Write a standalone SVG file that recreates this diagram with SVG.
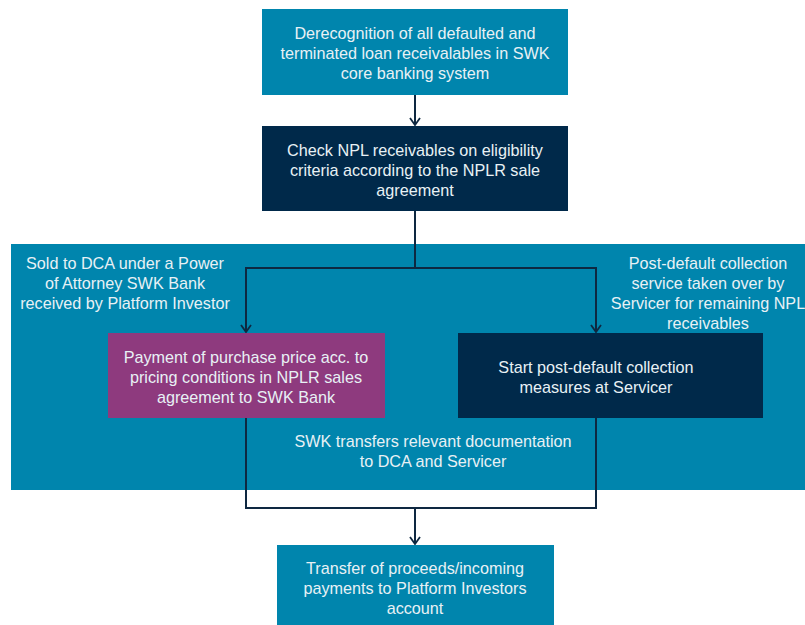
<svg xmlns="http://www.w3.org/2000/svg" width="805" height="625" viewBox="0 0 805 625">
<defs>
<style>
text{font-family:"Liberation Sans","Noto Sans",Arial,sans-serif;font-size:16.2px;fill:#E8F1F5;text-anchor:middle;dominant-baseline:central}
.teal{fill:#0085AD}
.navy{fill:#00294A}
.purple{fill:#8E3A7E}
.conn{fill:none;stroke:#0E2841;stroke-width:2}
</style>
<marker id="ah" viewBox="0 0 12 12" refX="11" refY="6" markerWidth="12" markerHeight="12" markerUnits="userSpaceOnUse" orient="auto">
<path d="M4,1 L11,6 L4,11" fill="none" stroke="#0E2841" stroke-width="1.8"/>
</marker>
</defs>
<rect x="11" y="244" width="794" height="246" class="teal" id="panel"/>
<g id="labels">
<text x="125" y="263">Sold to DCA under a Power</text>
<text x="125" y="283">of Attorney SWK Bank</text>
<text x="125" y="303">received by Platform Investor</text>
<text x="708" y="263">Post-default collection</text>
<text x="708" y="283">service taken over by</text>
<text x="708" y="303">Servicer for remaining NPL</text>
<text x="708" y="323">receivables</text>
<text x="433" y="441">SWK transfers relevant documentation</text>
<text x="433" y="461">to DCA and Servicer</text>
</g>
<g id="connectors">
<line class="conn" x1="415" y1="95" x2="415" y2="125" marker-end="url(#ah)"/>
<path class="conn" d="M415,211 V268 M246,268 H596"/>
<line class="conn" x1="246" y1="267" x2="246" y2="332" marker-end="url(#ah)"/>
<line class="conn" x1="596" y1="267" x2="596" y2="332" marker-end="url(#ah)"/>
<path class="conn" d="M246,418 V508 H596 V418"/>
<line class="conn" x1="415" y1="508" x2="415" y2="544" marker-end="url(#ah)"/>
</g>
<g id="n1">
<rect x="262" y="9" width="306" height="86" class="teal"/>
<text x="415" y="33">Derecognition of all defaulted and</text>
<text x="415" y="53">terminated loan receivalables in SWK</text>
<text x="415" y="73">core banking system</text>
</g>
<g id="n2">
<rect x="262" y="126" width="306" height="85" class="navy"/>
<text x="415" y="150">Check NPL receivables on eligibility</text>
<text x="415" y="170">criteria according to the NPLR sale</text>
<text x="415" y="190">agreement</text>
</g>
<g id="n3">
<rect x="108" y="333" width="277" height="85" class="purple"/>
<text x="246" y="357">Payment of purchase price acc. to</text>
<text x="246" y="377">pricing conditions in NPLR sales</text>
<text x="246" y="397">agreement to SWK Bank</text>
</g>
<g id="n4">
<rect x="458" y="333" width="305" height="85" class="navy"/>
<text x="596" y="367">Start post-default collection</text>
<text x="596" y="387">measures at Servicer</text>
</g>
<g id="n5">
<rect x="277" y="545" width="277" height="80" class="teal"/>
<text x="415" y="568">Transfer of proceeds/incoming</text>
<text x="415" y="588">payments to Platform Investors</text>
<text x="415" y="608">account</text>
</g>
</svg>
